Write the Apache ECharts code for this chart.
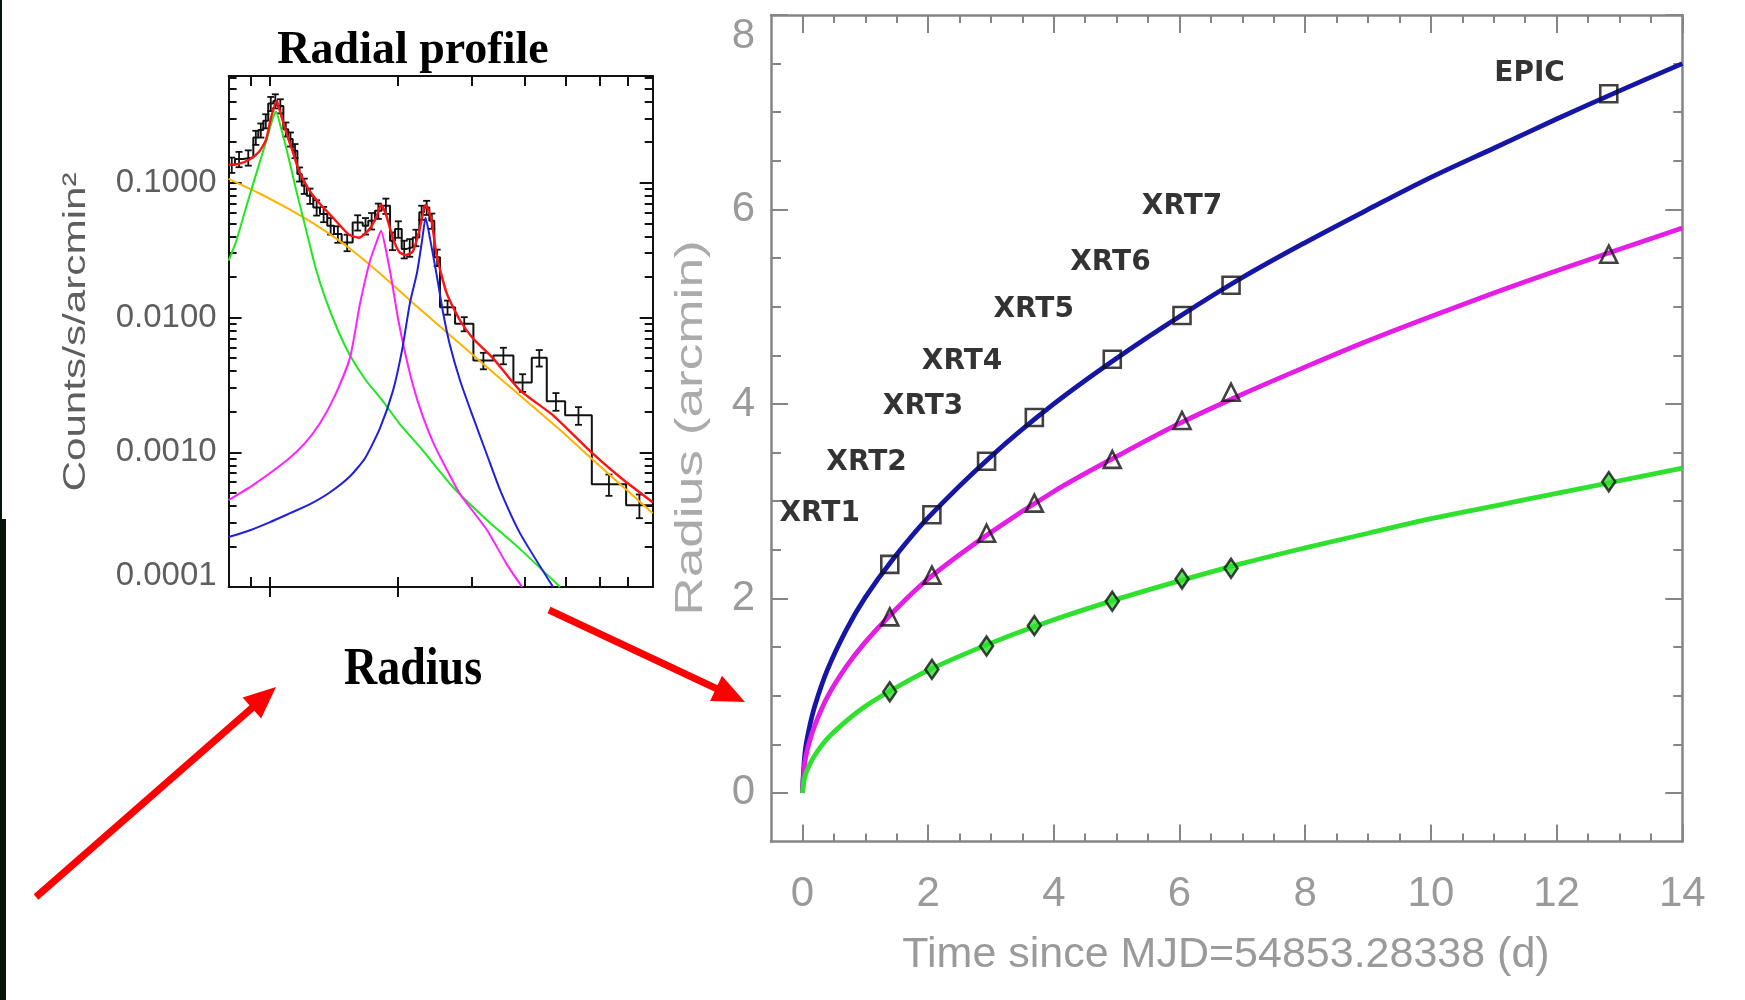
<!DOCTYPE html>
<html>
<head>
<meta charset="utf-8">
<script src="https://cdn.jsdelivr.net/npm/echarts@6/dist/echarts.min.js"></script>
<style>
  html, body { margin: 0; padding: 0; background: #ffffff; }
  #chart { width: 1745px; height: 1000px; }
</style>
</head>
<body>
<div id="chart"></div>
<script>
// ---------------- Radial profile (left panel) ----------------
// bin edges (arcmin) and surface brightness per bin (counts/s/arcmin^2)
const profileEdges = [0.800, 0.828, 0.866, 0.915, 0.940, 0.966, 0.992, 1.020, 1.042, 1.077, 1.106, 1.133,
  1.162, 1.190, 1.223, 1.267, 1.314, 1.367, 1.418, 1.478, 1.569, 1.657, 1.708, 1.771, 1.837, 1.922, 1.974,
  2.048, 2.104, 2.174, 2.253, 2.311, 2.379, 2.444, 2.521, 2.736, 3.022, 3.368, 3.755, 4.149, 4.501, 4.973,
  5.748, 6.925, 8.000];
const profileCounts = [0.136, 0.150, 0.154, 0.217, 0.246, 0.288, 0.387, 0.405, 0.372, 0.250, 0.211, 0.173,
  0.116, 0.0950, 0.0801, 0.0656, 0.0586, 0.0480, 0.0417, 0.0361, 0.0508, 0.0480, 0.0523, 0.0620, 0.0675,
  0.0372, 0.0454, 0.0323, 0.0332, 0.0393, 0.0603, 0.0656, 0.0523, 0.0280, 0.01192, 0.00898, 0.00480,
  0.00523, 0.00330, 0.00503, 0.00239, 0.00188, 0.000579, 0.000405];
// fractional 1-sigma error of each bin
const profileRelErr = [0.13, 0.13, 0.13, 0.12, 0.12, 0.12, 0.12, 0.12, 0.12, 0.12, 0.12, 0.12, 0.12, 0.13,
  0.13, 0.13, 0.13, 0.14, 0.14, 0.14, 0.13, 0.14, 0.14, 0.13, 0.13, 0.15, 0.14, 0.15, 0.15, 0.14, 0.12,
  0.12, 0.13, 0.14, 0.12, 0.12, 0.14, 0.14, 0.15, 0.14, 0.15, 0.15, 0.18, 0.20];

// model components: [radius, counts]
const modelTotal = [[0.800, 0.136], [0.846, 0.138], [0.894, 0.148], [0.944, 0.170], [0.980, 0.208],
  [1.007, 0.303], [1.038, 0.405], [1.063, 0.319], [1.093, 0.239], [1.133, 0.170], [1.172, 0.123],
  [1.238, 0.0887], [1.307, 0.0711], [1.410, 0.0550], [1.538, 0.0412], [1.624, 0.0391], [1.715, 0.0449],
  [1.781, 0.0550], [1.830, 0.0687], [1.881, 0.0579], [1.950, 0.0391], [2.018, 0.0308], [2.091, 0.0290],
  [2.174, 0.0308], [2.250, 0.0434], [2.331, 0.0687], [2.401, 0.0550], [2.474, 0.0293], [2.615, 0.0151],
  [2.811, 0.00950], [3.017, 0.00699], [3.364, 0.00497], [3.894, 0.00288], [4.658, 0.00188],
  [5.695, 0.00102], [6.703, 0.000653], [8.000, 0.000426]];
const compCore = [[0.800, 0.0264], [0.833, 0.0366], [0.879, 0.0653], [0.928, 0.115], [0.980, 0.201],
  [1.016, 0.298], [1.035, 0.336], [1.063, 0.256], [1.104, 0.161], [1.154, 0.0887], [1.218, 0.0449],
  [1.286, 0.0227], [1.358, 0.0134], [1.449, 0.00801], [1.547, 0.00523], [1.687, 0.00341], [1.850, 0.00239],
  [2.029, 0.00161], [2.262, 0.00109], [2.706, 0.000550], [3.256, 0.000313], [3.894, 0.000191],
  [4.839, 0.000100]];
const compRingA = [[0.800, 0.000441], [0.913, 0.000570], [1.098, 0.000872], [1.211, 0.00117],
  [1.314, 0.00164], [1.426, 0.00264], [1.547, 0.00505], [1.633, 0.0127], [1.724, 0.0264], [1.791, 0.0372],
  [1.830, 0.0441], [1.881, 0.0313], [1.943, 0.0182], [2.007, 0.00983], [2.085, 0.00550], [2.178, 0.00313],
  [2.287, 0.00191], [2.427, 0.00119], [2.605, 0.000761], [2.811, 0.000489], [3.256, 0.000264],
  [3.629, 0.000146], [3.937, 0.000100]];
const compRingB = [[0.800, 0.000235], [0.899, 0.000264], [1.002, 0.000303], [1.117, 0.000353],
  [1.245, 0.000412], [1.388, 0.000505], [1.547, 0.000664], [1.678, 0.000903], [1.820, 0.00151],
  [1.954, 0.00288], [2.051, 0.00570], [2.142, 0.0129], [2.225, 0.0215], [2.287, 0.0372], [2.331, 0.0550],
  [2.388, 0.0385], [2.477, 0.0205], [2.563, 0.0109], [2.662, 0.00620], [2.811, 0.00341], [3.017, 0.00182],
  [3.256, 0.000950], [3.494, 0.000523], [3.894, 0.000250], [4.658, 0.000100]];
const compDiffuse = [[0.800, 0.107], [0.949, 0.0829], [1.117, 0.0631], [1.314, 0.0464], [1.547, 0.0324],
  [1.820, 0.0212], [2.142, 0.0134], [2.521, 0.00858], [2.968, 0.00550], [3.494, 0.00353], [4.112, 0.00227],
  [4.839, 0.00146], [5.695, 0.000918], [6.703, 0.000579], [8.000, 0.000353]];

const profileRadiusRange = [0.8, 8];
const profileRadiusTicks = [0.9, 1, 2, 3, 4, 5, 6, 7];
const profileRadiusMajor = [1, 2];
const profileCountRange = [0.0001, 0.62];
const profileCountLabels = [0.0001, 0.001, 0.01, 0.1];

// ---------------- Ring expansion (right panel) ----------------
const obsNames = ['XRT1', 'XRT2', 'XRT3', 'XRT4', 'XRT5', 'XRT6', 'XRT7', 'EPIC'];
const obsTime = [1.39, 2.06, 2.93, 3.69, 4.93, 6.04, 6.82, 12.83];
const ringOuter = [2.35, 2.86, 3.41, 3.86, 4.46, 4.91, 5.22, 7.19];
const ringMiddle = [1.81, 2.24, 2.67, 2.98, 3.43, 3.83, 4.12, 5.54];
const ringInner = [1.04, 1.27, 1.51, 1.72, 1.97, 2.20, 2.31, 3.20];
const obsLabelTime = [0.275, 1.02, 1.92, 2.54, 3.68, 4.90, 6.04, 11.57];
const obsLabelRadius = [2.87, 3.40, 3.97, 4.43, 4.97, 5.45, 6.03, 7.40];

const fitTime = [0, 0.04, 0.1, 0.2, 0.4, 0.7, 1, 1.4, 2, 3, 4, 5, 6, 7, 8, 9, 10, 11, 12, 13, 14];
const fitOuter = [0, 0.41, 0.64, 0.90, 1.27, 1.68, 2.01, 2.37, 2.83, 3.46, 4.00, 4.47, 4.90, 5.30, 5.66,
  6.00, 6.33, 6.63, 6.93, 7.22, 7.50];
const fitMiddle = [0, 0.32, 0.50, 0.70, 0.99, 1.30, 1.55, 1.83, 2.20, 2.68, 3.10, 3.46, 3.80, 4.10, 4.38,
  4.65, 4.90, 5.14, 5.37, 5.59, 5.81];
const fitInner = [0, 0.17, 0.27, 0.39, 0.56, 0.74, 0.89, 1.05, 1.26, 1.54, 1.78, 1.99, 2.18, 2.36, 2.52,
  2.67, 2.82, 2.95, 3.08, 3.21, 3.34];

const timeRange = [-0.5, 14];
const timeLabels = [0, 2, 4, 6, 8, 10, 12, 14];
const radiusRange = [-0.5, 8];
const radiusLabels = [0, 2, 4, 6, 8];
const minorStep = 0.5;

// ---------------- building ----------------
const L10 = Math.log10;
const toLog = pts => pts.map(p => [L10(p[0]), L10(p[1])]);

// histogram outline as a step path over the bin edges
const stepPath = [];
profileCounts.forEach((c, i) => {
  stepPath.push([L10(profileEdges[i]), L10(c)]);
  stepPath.push([L10(profileEdges[i + 1]), L10(c)]);
});
const errBars = profileCounts.map((c, i) => [
  0.5 * (L10(profileEdges[i]) + L10(profileEdges[i + 1])),
  L10(c * (1 - profileRelErr[i])),
  L10(c * (1 + profileRelErr[i]))
]);

// log-axis minor ticks (2..9 per decade)
const countMinor = [];
for (let d = Math.round(L10(profileCountRange[0])); d < 0; d++) {
  for (let k = 2; k <= 9; k++) {
    const v = d + L10(k);
    if (v < L10(profileCountRange[1])) countMinor.push(v);
  }
}
const countMajor = profileCountLabels.map(L10);

const timeMinor = [];
for (let v = 0; v <= timeRange[1] + 1e-9; v += minorStep) timeMinor.push(v);
const radiusMinor = [];
for (let v = 0; v <= radiusRange[1] + 1e-9; v += minorStep) radiusMinor.push(v);

const BLACK = '#111111';
const GREY = '#858585';
const LABEL_GREY = '#9a9a9a';

function tickAxis(o) {
  return Object.assign({
    type: 'value',
    splitLine: { show: false },
    axisLabel: { show: false },
    axisLine: { show: false, onZero: false },
    axisPointer: { show: false }
  }, o);
}

const lx = [L10(profileRadiusRange[0]), L10(profileRadiusRange[1])];
const ly = [L10(profileCountRange[0]), L10(profileCountRange[1])];

const xAxes = [
  // left panel
  tickAxis({ gridIndex: 0, position: 'bottom', min: lx[0], max: lx[1],
    axisLine: { show: true, onZero: false, lineStyle: { color: BLACK, width: 2 } },
    axisTick: { show: true, inside: true, length: 10, customValues: profileRadiusTicks.map(L10),
      lineStyle: { color: BLACK, width: 2 } } }),
  tickAxis({ gridIndex: 0, position: 'bottom', min: lx[0], max: lx[1],
    axisTick: { show: true, inside: false, length: 10, customValues: profileRadiusMajor.map(L10),
      lineStyle: { color: BLACK, width: 2 } } }),
  tickAxis({ gridIndex: 0, position: 'top', min: lx[0], max: lx[1],
    axisLine: { show: true, onZero: false, lineStyle: { color: BLACK, width: 2 } },
    axisTick: { show: true, inside: true, length: 10, customValues: profileRadiusTicks.map(L10),
      lineStyle: { color: BLACK, width: 2 } } }),
  // right panel
  tickAxis({ gridIndex: 1, position: 'bottom', min: timeRange[0], max: timeRange[1],
    axisLine: { show: true, onZero: false, lineStyle: { color: GREY, width: 2.5 } },
    axisTick: { show: true, inside: true, length: 8, customValues: timeMinor,
      lineStyle: { color: GREY, width: 2 } },
    axisLabel: { show: true, customValues: timeLabels, margin: 32, color: LABEL_GREY, fontSize: 42,
      fontFamily: 'Liberation Sans' } }),
  tickAxis({ gridIndex: 1, position: 'bottom', min: timeRange[0], max: timeRange[1],
    axisTick: { show: true, inside: true, length: 17, customValues: timeLabels,
      lineStyle: { color: GREY, width: 2 } } }),
  tickAxis({ gridIndex: 1, position: 'top', min: timeRange[0], max: timeRange[1],
    axisLine: { show: true, onZero: false, lineStyle: { color: GREY, width: 2.5 } },
    axisTick: { show: true, inside: true, length: 8, customValues: timeMinor,
      lineStyle: { color: GREY, width: 2 } } }),
  tickAxis({ gridIndex: 1, position: 'top', min: timeRange[0], max: timeRange[1],
    axisTick: { show: true, inside: true, length: 18, customValues: timeLabels,
      lineStyle: { color: GREY, width: 2 } } })
];

const yAxes = [
  // left panel
  tickAxis({ gridIndex: 0, position: 'left', min: ly[0], max: ly[1],
    axisLine: { show: true, onZero: false, lineStyle: { color: BLACK, width: 2 } },
    axisTick: { show: true, inside: true, length: 13, customValues: countMajor,
      lineStyle: { color: BLACK, width: 2 } },
    axisLabel: { show: true, customValues: countMajor, margin: 12, color: '#5e5e5e', fontSize: 33,
      lineHeight: 22, fontFamily: 'Liberation Sans', verticalAlignMinLabel: 'bottom',
      formatter: v => Math.pow(10, v).toFixed(4) } }),
  tickAxis({ gridIndex: 0, position: 'left', min: ly[0], max: ly[1],
    axisTick: { show: true, inside: true, length: 8, customValues: countMinor,
      lineStyle: { color: BLACK, width: 2 } } }),
  tickAxis({ gridIndex: 0, position: 'right', min: ly[0], max: ly[1],
    axisLine: { show: true, onZero: false, lineStyle: { color: BLACK, width: 2 } },
    axisTick: { show: true, inside: true, length: 13, customValues: countMajor,
      lineStyle: { color: BLACK, width: 2 } } }),
  tickAxis({ gridIndex: 0, position: 'right', min: ly[0], max: ly[1],
    axisTick: { show: true, inside: true, length: 8, customValues: countMinor,
      lineStyle: { color: BLACK, width: 2 } } }),
  // right panel
  tickAxis({ gridIndex: 1, position: 'left', min: radiusRange[0], max: radiusRange[1],
    axisLine: { show: true, onZero: false, lineStyle: { color: GREY, width: 2.5 } },
    axisTick: { show: true, inside: true, length: 10, customValues: radiusMinor,
      lineStyle: { color: GREY, width: 2 } },
    axisLabel: { show: true, customValues: radiusLabels, margin: 16, color: LABEL_GREY, fontSize: 42,
      fontFamily: 'Liberation Sans', verticalAlignMaxLabel: 'top' } }),
  tickAxis({ gridIndex: 1, position: 'left', min: radiusRange[0], max: radiusRange[1],
    axisTick: { show: true, inside: true, length: 17, customValues: radiusLabels,
      lineStyle: { color: GREY, width: 2 } } }),
  tickAxis({ gridIndex: 1, position: 'right', min: radiusRange[0], max: radiusRange[1],
    axisLine: { show: true, onZero: false, lineStyle: { color: GREY, width: 2.5 } },
    axisTick: { show: true, inside: true, length: 9, customValues: radiusMinor,
      lineStyle: { color: GREY, width: 2 } } }),
  tickAxis({ gridIndex: 1, position: 'right', min: radiusRange[0], max: radiusRange[1],
    axisTick: { show: true, inside: true, length: 17, customValues: radiusLabels,
      lineStyle: { color: GREY, width: 2 } } })
];

function modelLine(name, pts, color, width) {
  return { name, type: 'line', xAxisIndex: 0, yAxisIndex: 0, data: toLog(pts), showSymbol: false,
    smooth: 0.2, clip: true, silent: true, lineStyle: { color, width }, z: 3 };
}
function fitLine(name, vals, color) {
  return { name, type: 'line', xAxisIndex: 3, yAxisIndex: 4, showSymbol: false, silent: true,
    smooth: 0.35,
    data: fitTime.map((t, i) => [t, vals[i]]), lineStyle: { color, width: 4.8 }, z: 3 };
}
function obsPoints(name, vals, symbol, size, fill) {
  return { name, type: 'scatter', xAxisIndex: 3, yAxisIndex: 4, symbol, symbolSize: size, silent: true,
    data: obsTime.map((t, i) => [t, vals[i]]),
    itemStyle: { color: fill, borderColor: '#111111', borderWidth: 2.6 }, z: 5 };
}

const series = [
  // histogram and error bars
  { name: 'data', type: 'line', xAxisIndex: 0, yAxisIndex: 0, data: stepPath, showSymbol: false,
    silent: true, lineStyle: { color: BLACK, width: 2 }, z: 2 },
  { name: 'errors', type: 'custom', xAxisIndex: 0, yAxisIndex: 0, data: errBars, silent: true, z: 2,
    encode: { x: 0, y: [1, 2] },
    renderItem: (params, api) => {
      const x = api.value(0);
      const p1 = api.coord([x, api.value(1)]);
      const p2 = api.coord([x, api.value(2)]);
      const w = 3.5, st = { stroke: BLACK, lineWidth: 1.8 };
      return { type: 'group', children: [
        { type: 'line', shape: { x1: p1[0], y1: p1[1], x2: p2[0], y2: p2[1] }, style: st },
        { type: 'line', shape: { x1: p1[0] - w, y1: p1[1], x2: p1[0] + w, y2: p1[1] }, style: st },
        { type: 'line', shape: { x1: p2[0] - w, y1: p2[1], x2: p2[0] + w, y2: p2[1] }, style: st }
      ] };
    } },
  modelLine('diffuse', compDiffuse, '#ffb300', 2),
  modelLine('core', compCore, '#1fe81f', 2),
  modelLine('ringA', compRingA, '#ff22ff', 2),
  modelLine('ringB', compRingB, '#1f1fe0', 2),
  modelLine('total', modelTotal, '#ff1212', 2.4),
  // ring radius versus time
  fitLine('outer fit', fitOuter, '#1616a6'),
  fitLine('middle fit', fitMiddle, '#e41ee4'),
  fitLine('inner fit', fitInner, '#2fe02f'),
  obsPoints('outer', ringOuter, 'rect', 17, 'rgba(0,0,0,0)'),
  obsPoints('middle', ringMiddle, 'triangle', 17, 'rgba(0,0,0,0)'),
  obsPoints('inner', ringInner, 'diamond', [13, 19], '#2fe02f'),
  { name: 'observation', type: 'scatter', xAxisIndex: 3, yAxisIndex: 4, symbolSize: 1, silent: true,
    itemStyle: { color: 'rgba(0,0,0,0)' }, z: 6,
    data: obsNames.map((n, i) => ({ name: n, value: [obsLabelTime[i], obsLabelRadius[i]] })),
    label: { show: true, position: 'inside', formatter: '{b}', color: '#000000', fontSize: 28,
      fontWeight: 'bold', fontFamily: 'DejaVu Sans' } }
];

// red arrows between the panels
function arrow(tail, tip) {
  const dx = tip[0] - tail[0], dy = tip[1] - tail[1], len = Math.hypot(dx, dy);
  const ux = dx / len, uy = dy / len, px = -uy, py = ux;
  const headL = 32, headW = 14;
  const bx = tip[0] - ux * headL, by = tip[1] - uy * headL;
  return [
    { type: 'line', shape: { x1: tail[0], y1: tail[1], x2: bx + ux * 2, y2: by + uy * 2 },
      style: { stroke: '#ff0000', lineWidth: 7 }, z: 20 },
    { type: 'polygon', shape: { points: [tip, [bx + px * headW, by + py * headW], [bx - px * headW, by - py * headW]] },
      style: { fill: '#ff0000' }, z: 20 }
  ];
}

const graphic = [
  { type: 'rect', shape: { x: 0, y: 0, width: 2, height: 519 }, style: { fill: '#081408' }, z: 30 },
  { type: 'rect', shape: { x: 0, y: 519, width: 6, height: 481 }, style: { fill: '#081408' }, z: 30 },
  { type: 'text', x: 413, y: 51, style: { text: 'Radial profile', fontSize: 46, fontWeight: 'bold',
    fontFamily: 'Liberation Serif', fill: '#000', align: 'center', verticalAlign: 'middle' }, z: 20 },
  { type: 'text', x: 413, y: 670, scaleY: 1.15, style: { text: 'Radius', fontSize: 46, fontWeight: 'bold',
    fontFamily: 'Liberation Serif', fill: '#000', align: 'center', verticalAlign: 'middle' }, z: 20 },
  { type: 'text', x: 76, y: 332, rotation: Math.PI / 2, scaleX: 1.32, style: { text: 'Counts/s/arcmin\u00b2',
    fontSize: 32, fontFamily: 'Liberation Sans', fill: '#5e5e5e', align: 'center', verticalAlign: 'middle' }, z: 20 },
  { type: 'text', x: 692, y: 428, rotation: Math.PI / 2, scaleX: 1.4, style: { text: 'Radius (arcmin)',
    fontSize: 38, fontFamily: 'Liberation Sans', fill: '#ababab', align: 'center', verticalAlign: 'middle' }, z: 20 },
  { type: 'text', x: 1226, y: 955, style: { text: 'Time since MJD=54853.28338 (d)', fontSize: 43,
    fontFamily: 'Liberation Sans', fill: '#9a9a9a', align: 'center', verticalAlign: 'middle' }, z: 20 }
].concat(arrow([36, 897], [276, 687]), arrow([549, 610], [745, 702]));

const chart = echarts.init(document.getElementById('chart'), null, { renderer: 'canvas' });
chart.setOption({
  backgroundColor: '#ffffff',
  animation: false,
  grid: [
    { left: 228.6, top: 76, width: 424.1, height: 511, containLabel: false, outerBoundsMode: 'none' },
    { left: 771, top: 15, width: 911.3, height: 826.5, containLabel: false, outerBoundsMode: 'none' }
  ],
  xAxis: xAxes,
  yAxis: yAxes,
  series,
  graphic
});
</script>
</body>
</html>
